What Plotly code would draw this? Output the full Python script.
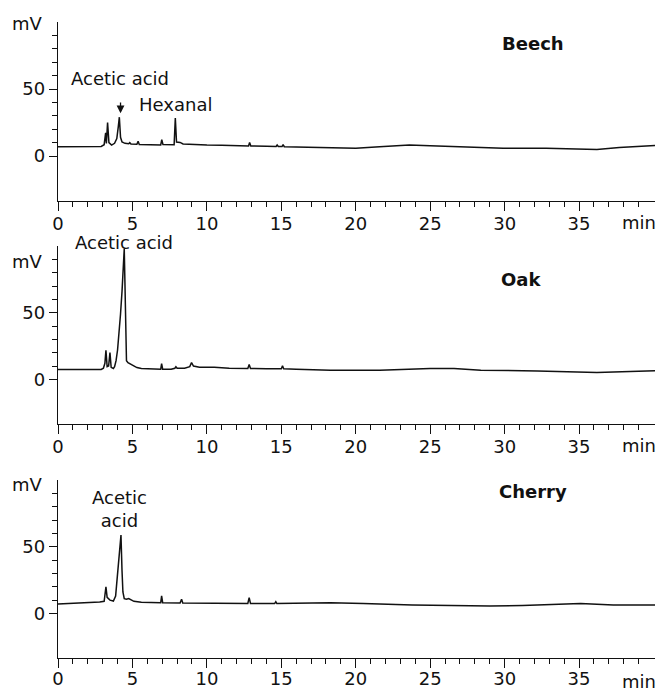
import plotly.graph_objects as go

# Retention time (min) and detector signal (mV) for each wood sample
beech_t = [0.0, 1.0, 2.0, 2.9, 3.1, 3.2, 3.25, 3.33, 3.42, 3.6, 3.8, 3.95, 4.05, 4.12, 4.2, 4.3,
           4.5, 4.75, 4.82, 4.9, 5.3, 5.38, 5.46, 6.0, 6.9, 6.97, 7.05, 7.8, 7.88, 7.96, 8.2, 8.4,
           9.0, 10.0, 11.0, 12.0, 12.8, 12.87, 12.95, 14.0, 14.65, 14.72, 14.8, 15.05, 15.12, 15.2,
           16.5, 18.3, 20.0, 21.6, 23.6, 25.0, 27.2, 29.9, 32.8, 35.1, 36.2, 37.7, 40.1]
beech_mv = [7.0, 7.0, 7.1, 7.2, 8.5, 17.4, 9.5, 25.0, 10.0, 8.2, 9.5, 13.0, 22.0, 29.0, 14.0, 10.5,
            9.5, 9.2, 10.0, 9.0, 8.8, 11.0, 8.6, 8.4, 8.3, 12.2, 8.6, 8.5, 28.3, 10.5, 10.2, 9.0,
            8.6, 8.2, 8.0, 7.8, 7.6, 10.2, 7.6, 7.3, 7.2, 8.3, 7.2, 7.1, 8.6, 7.0,
            6.8, 6.3, 5.8, 7.0, 8.2, 7.7, 7.0, 5.9, 5.9, 5.4, 4.9, 6.4, 7.9]

oak_t = [0.0, 1.5, 2.9, 3.05, 3.15, 3.22, 3.3, 3.4, 3.49, 3.57, 3.72, 3.8, 3.9, 4.0, 4.1, 4.2,
         4.3, 4.38, 4.45, 4.5, 4.55, 4.6, 4.7, 4.85, 5.05, 5.3, 5.6, 6.0, 6.9, 6.96, 7.03, 7.6,
         7.85, 7.92, 8.0, 8.5, 8.85, 8.97, 9.1, 9.5, 10.5, 11.5, 12.75, 12.84, 12.93, 14.0, 15.0,
         15.08, 15.16, 16.0, 17.0, 18.3, 21.6, 25.0, 26.6, 28.4, 32.2, 36.2, 40.1]
oak_mv = [7.4, 7.3, 7.4, 8.3, 12.0, 21.7, 9.5, 10.0, 20.0, 9.0, 8.1, 9.4, 14.0, 22.0, 34.0, 49.0,
          66.0, 82.0, 98.0, 70.0, 25.0, 14.0, 12.5, 11.5, 10.0, 8.8, 8.1, 7.8, 7.6, 11.8, 7.6, 7.6,
          8.3, 9.4, 8.3, 8.4, 9.5, 12.6, 10.0, 9.0, 9.0, 8.4, 8.2, 11.1, 8.1, 7.9, 8.0,
          10.1, 8.0, 7.6, 7.3, 6.9, 6.9, 8.1, 8.1, 6.9, 6.2, 5.2, 6.4]

cherry_t = [0.0, 1.5, 2.8, 3.1, 3.22, 3.3, 3.49, 3.72, 3.87, 3.98, 4.1, 4.23, 4.3, 4.36, 4.45,
            4.6, 4.75, 4.9, 5.1, 5.6, 6.9, 6.96, 7.03, 8.2, 8.3, 8.38, 10.0, 12.75, 12.84, 12.93,
            14.55, 14.63, 14.7, 16.0, 18.3, 20.5, 23.8, 29.0, 31.2, 35.1, 37.3, 40.1]
cherry_mv = [7.0, 7.5, 8.5, 9.0, 19.8, 12.0, 9.9, 9.2, 13.0, 27.0, 43.0, 58.7, 32.0, 16.0, 11.0,
             10.5, 11.1, 10.0, 9.0, 8.3, 8.0, 13.1, 8.0, 7.8, 10.6, 7.7, 7.5, 7.4, 11.8, 7.4,
             7.3, 8.7, 7.3, 7.5, 7.9, 7.4, 6.2, 5.5, 5.9, 7.4, 6.2, 6.2]

samples = ["Beech", "Oak", "Cherry"]
x_ticks = [0, 5, 10, 15, 20, 25, 30, 35]
x_minor = [m for m in range(1, 40) if m % 5]
y_ticks = [0, 50]
y_minor = [10, 20, 30, 40, 60, 70, 80, 90]

W, H = 658, 691
INK = "#111111"
FONT = "DejaVu Sans"
FS = 18
L_MARGIN, R_MARGIN = 58, 3

# vertical extent of each panel's plot area (pixels from top) and label offset
panel_px = [(22, 201), (246, 424), (480, 658)]
label_standoff = [-3, -3, -5]


def dom(top, bottom):
    return [1 - bottom / H, 1 - top / H]


def paper_x(px):
    return (px - L_MARGIN) / (W - L_MARGIN - R_MARGIN)


def paper_y(px):
    return 1 - px / H


fig = go.Figure()
series = [(beech_t, beech_mv), (oak_t, oak_mv), (cherry_t, cherry_mv)]
for i, (t, mv) in enumerate(series):
    sfx = "" if i == 0 else str(i + 1)
    fig.add_trace(go.Scatter(x=t, y=mv, mode="lines", line=dict(color=INK, width=1.5),
                             xaxis="x" + sfx, yaxis="y" + sfx, showlegend=False,
                             hoverinfo="skip"))

layout = dict(
    width=W, height=H,
    margin=dict(l=L_MARGIN, r=R_MARGIN, t=0, b=0, pad=0),
    paper_bgcolor="white", plot_bgcolor="white",
    template="none",
    showlegend=False,
    font=dict(family=FONT, size=FS, color=INK),
)

for i, (top, bottom) in enumerate(panel_px):
    sfx = "" if i == 0 else str(i + 1)
    layout["xaxis" + sfx] = dict(
        domain=[0, 1], anchor="y" + sfx, range=[0, 40.1],
        showline=True, linecolor=INK, linewidth=1.3,
        ticks="outside", ticklen=9, tickwidth=1.3, tickcolor=INK,
        tickvals=x_ticks, ticktext=[str(v) for v in x_ticks],
        ticklabelstandoff=label_standoff[i],
        minor=dict(tickvals=x_minor, ticks="outside", ticklen=5, tickwidth=1.2, tickcolor=INK),
        tickfont=dict(family=FONT, size=FS, color=INK),
        showgrid=False, zeroline=False, automargin=False, fixedrange=True,
    )
    layout["yaxis" + sfx] = dict(
        domain=dom(top, bottom), anchor="x" + sfx, range=[-33.5, 100],
        showline=True, linecolor=INK, linewidth=1.3,
        ticks="outside", ticklen=8, tickwidth=1.3, tickcolor=INK,
        tickvals=y_ticks, ticktext=[str(v) for v in y_ticks],
        minor=dict(tickvals=y_minor, ticks="outside", ticklen=5, tickwidth=1.2, tickcolor=INK),
        tickfont=dict(family=FONT, size=FS, color=INK),
        showgrid=False, zeroline=False, automargin=False, fixedrange=True,
    )

fig.update_layout(**layout)

ann = []
# sample names (bold), unit labels on both axes
name_pos = [(31.9, 84.3), (31.1, 75.0), (31.9, 91.6)]
mv_px = [24, 261, 484]
for i, name in enumerate(samples):
    sfx = "" if i == 0 else str(i + 1)
    nx, ny = name_pos[i]
    ann.append(dict(x=nx, y=ny, xref="x" + sfx, yref="y" + sfx, text="<b>" + name + "</b>",
                    showarrow=False))
    ann.append(dict(x=paper_x(27.5), y=paper_y(mv_px[i]), xref="paper", yref="paper",
                    xanchor="center", yanchor="middle", text="mV", showarrow=False))
    ann.append(dict(x=39.0, y=0, xref="x" + sfx, yref="y" + sfx + " domain", text="min",
                    showarrow=False, yanchor="top", yshift=-9 + 3 + label_standoff[i]))

# peak labels
ann += [
    dict(x=4.16, y=57.5, xref="x", yref="y", text="Acetic acid", showarrow=False),
    dict(x=4.2, y=32.0, ax=4.2, ay=41.0, xref="x", yref="y", axref="x", ayref="y", text="",
         showarrow=True, arrowhead=2, arrowsize=1.2, arrowwidth=1.3, arrowcolor=INK),
    dict(x=7.87, y=38.8, xref="x", yref="y", text="Hexanal", showarrow=False),
    dict(x=paper_x(124.2), y=paper_y(242.5), xref="paper", yref="paper", text="Acetic acid",
         xanchor="center", yanchor="middle", showarrow=False),
    dict(x=4.14, y=78.6, xref="x3", yref="y3", text="Acetic<br>acid", showarrow=False),
]
for a in ann:
    a.setdefault("font", dict(family=FONT, size=FS, color=INK))

fig.update_layout(annotations=ann)
fig.write_html("out.html")
